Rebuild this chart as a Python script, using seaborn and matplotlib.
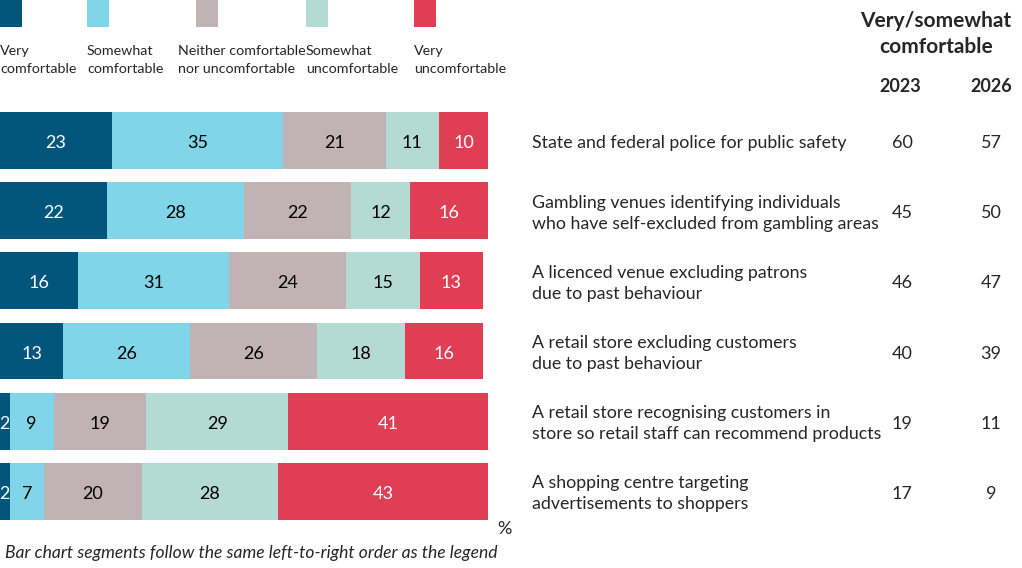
import numpy as np
import pandas as pd
import matplotlib.pyplot as plt
import seaborn as sns
from matplotlib.patches import Rectangle

items = [
    'State and federal police for public safety',
    'Gambling venues identifying individuals\nwho have self-excluded from gambling areas',
    'A licenced venue excluding patrons\ndue to past behaviour',
    'A retail store excluding customers\ndue to past behaviour',
    'A retail store recognising customers in\nstore so retail staff can recommend products',
    'A shopping centre targeting\nadvertisements to shoppers',
]
levels = ['Very\ncomfortable', 'Somewhat\ncomfortable', 'Neither comfortable\nnor uncomfortable',
          'Somewhat\nuncomfortable', 'Very\nuncomfortable']
very_comf = [23, 22, 16, 13, 2, 2]
some_comf = [35, 28, 31, 26, 9, 7]
neither = [21, 22, 24, 26, 19, 20]
some_unc = [11, 12, 15, 18, 29, 28]
very_unc = [10, 16, 13, 16, 41, 43]
comf_2023 = [60, 45, 46, 40, 19, 17]
comf_2026 = [57, 50, 47, 39, 11, 9]
colors = ['#02567c', '#80d5e8', '#c1b2b5', '#b3dbd3', '#e03e55']
label_colors = ['white', 'black', 'black', 'black', 'white']

W, H = 1022, 568
FONT = ['Lato', 'DejaVu Sans']
DY = 0.035  # nudge text down a little so it sits on the bar centre


def px(x, y):
    return x / W, 1 - y / H


sns.set_theme(style='white')
plt.rcParams['font.family'] = FONT

df = pd.DataFrame({'item': items, 'very_comf': very_comf, 'some_comf': some_comf, 'neither': neither,
                   'some_unc': some_unc, 'very_unc': very_unc})
cols = ['very_comf', 'some_comf', 'neither', 'some_unc', 'very_unc']
cum = df[cols].cumsum(axis=1)

fig = plt.figure(figsize=(W / 100, H / 100), dpi=100)
ax = fig.add_axes([0, 1 - 526.6 / H, 488 / W, 421.3 / H])

# stacked bars: draw cumulative totals from the right-most segment backwards
for i in range(len(cols) - 1, -1, -1):
    sns.barplot(x=cum[cols[i]], y=df['item'], orient='h', color=colors[i], width=0.81,
                saturation=1, linewidth=0, ax=ax)

for i, c in enumerate(cols):
    mids = cum[c] - df[c] / 2
    for j, (m, v) in enumerate(zip(mids, df[c])):
        ax.text(m, j + DY, str(v), ha='center', va='center', fontsize=13, color=label_colors[i])

ax.set_xlim(0, 100)
ax.set_ylim(5.5, -0.5)
ax.set_xlabel('')
ax.set_ylabel('')
ax.set_xticks([])
ax.set_yticks([])
sns.despine(ax=ax, left=True, bottom=True)

# right-hand labels and numbers
for j, lab in enumerate(items):
    ax.text(532 / 488 * 100, j + DY, lab, ha='left', va='center', fontsize=12.8, linespacing=1.38)
    ax.text(902 / 488 * 100, j + DY, str(comf_2023[j]), ha='center', va='center', fontsize=13)
    ax.text(991 / 488 * 100, j + DY, str(comf_2026[j]), ha='center', va='center', fontsize=13)

fig.text(*px(936, 34), 'Very/somewhat\ncomfortable', ha='center', va='center', fontsize=15,
         fontweight='bold', linespacing=1.42)
fig.text(*px(900, 87), '2023', ha='center', va='center', fontsize=13, fontweight='bold')
fig.text(*px(991, 87), '2026', ha='center', va='center', fontsize=13, fontweight='bold')

# legend
sq_x = [0, 87, 196, 306, 414]
txt_x = [0, 87, 178, 306, 414]
for i, lab in enumerate(levels):
    fig.patches.append(Rectangle(px(sq_x[i], 27), 22 / W, 27 / H, transform=fig.transFigure,
                                 color=colors[i], linewidth=0))
    fig.text(*px(txt_x[i], 60), lab, ha='left', va='center', fontsize=10.3, linespacing=1.65)

fig.text(*px(497, 529), '%', ha='left', va='center', fontsize=13)
fig.text(*px(5, 553), 'Bar chart segments follow the same left-to-right order as the legend',
         ha='left', va='center', fontsize=12.6, style='italic')

fig.savefig('out.png', dpi=100)
